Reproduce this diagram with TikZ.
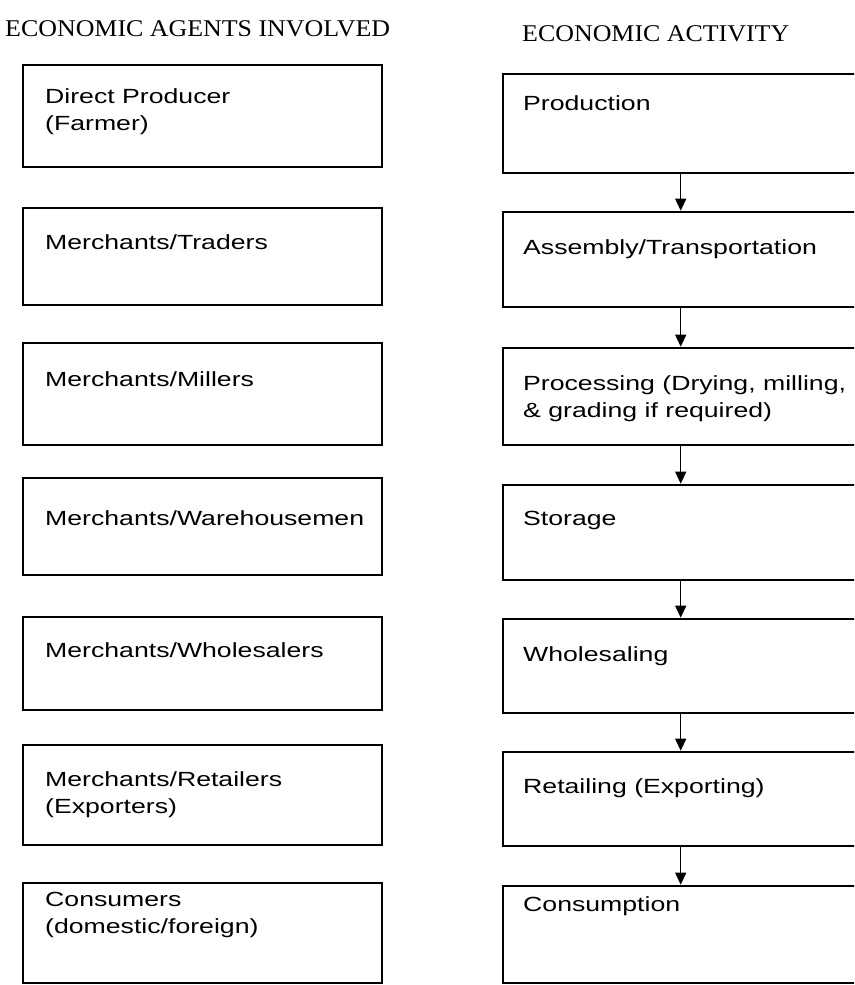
\documentclass[tikz,border=0pt]{standalone}
\usepackage{fontspec}
\newfontfamily\boxfont[FakeStretch=1.30]{Liberation Sans}
\newfontfamily\headfont[FakeStretch=1.08]{Liberation Serif}
\usetikzlibrary{arrows.meta,calc}
\tikzset{
  lbox/.style={draw, line width=2.6pt, rectangle, inner sep=0pt, minimum width=359pt},
  rbox/.style={draw, line width=2.6pt, rectangle, inner sep=0pt, minimum width=397pt},
  lbl/.style={anchor=north west, inner sep=0pt, align=left,
    font=\boxfont\fontsize{20.5}{27}\selectfont, execute at begin node=\strut},
  hdr/.style={anchor=base west, inner sep=0pt, font=\headfont\fontsize{24}{28}\selectfont},
  flow/.style={line width=1.3pt, -{Triangle[width=11pt,length=12pt]}}
}
\begin{document}
\begin{tikzpicture}[x=1pt, y=-1pt]
\useasboundingbox (0,0) rectangle (854,985);
\clip (0,0) rectangle (854,985);

% headers
\node[hdr] (h1) at (5,36) {ECONOMIC AGENTS INVOLVED};
\node[hdr] (h2) at (522,41) {ECONOMIC ACTIVITY};

% left column boxes
\node[lbox, minimum height=102pt] (a1) at (202.5,116) {};
\node[lbox, minimum height=97pt]  (a2) at (202.5,256.5) {};
\node[lbox, minimum height=102pt] (a3) at (202.5,394) {};
\node[lbox, minimum height=97pt]  (a4) at (202.5,526.5) {};
\node[lbox, minimum height=93pt]  (a5) at (202.5,663.5) {};
\node[lbox, minimum height=100pt] (a6) at (202.5,795) {};
\node[lbox, minimum height=100pt] (a7) at (202.5,933) {};

% right column boxes
\node[rbox, minimum height=99pt] (b1) at (701.5,123.5) {};
\node[rbox, minimum height=95pt] (b2) at (701.5,259.5) {};
\node[rbox, minimum height=97pt] (b3) at (701.5,396.5) {};
\node[rbox, minimum height=95pt] (b4) at (701.5,532.5) {};
\node[rbox, minimum height=94pt] (b5) at (701.5,666) {};
\node[rbox, minimum height=94pt] (b6) at (701.5,799) {};
\node[rbox, minimum height=97pt] (b7) at (701.5,934.5) {};

% left labels (strut height = 18.9pt)
\node[lbl] (ta1) at (45,88.1) {Direct Producer\\(Farmer)};
\node[lbl] (ta2) at (45,230.1) {Merchants/Traders};
\node[lbl] (ta3) at (45,367.1) {Merchants/Millers};
\node[lbl] (ta4) at (45,506.1) {Merchants/Warehousemen};
\node[lbl] (ta5) at (45,638.1) {Merchants/Wholesalers};
\node[lbl] (ta6) at (45,771.1) {Merchants/Retailers\\(Exporters)};
\node[lbl] (ta7) at (45,892.1) {Consumers\\(domestic/foreign)};

% right labels
\node[lbl] (tb1) at (523,91.1) {Production};
\node[lbl] (tb2) at (523,235.1) {Assembly/Transportation};
\node[lbl] (tb3) at (523,375.1) {Processing (Drying, milling,\\\& grading if required)};
\node[lbl] (tb4) at (523,506.1) {Storage};
\node[lbl] (tb5) at (523,642.1) {Wholesaling};
\node[lbl] (tb6) at (523,774.1) {Retailing (Exporting)};
\node[lbl] (tb7) at (523,892.1) {Consumption};

% flow arrows
\foreach \u/\v in {b1/b2, b2/b3, b3/b4, b4/b5, b5/b6, b6/b7}
  \draw[flow] ($(\u.south west)+(179,0)$) -- ($(\v.north west)+(179,0)$);
\end{tikzpicture}
\end{document}
